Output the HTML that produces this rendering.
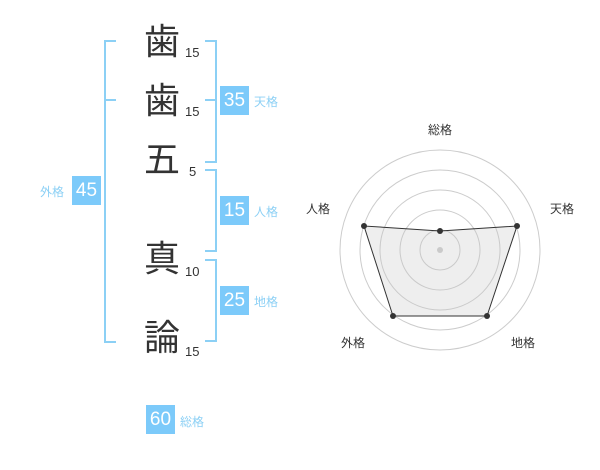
<!DOCTYPE html>
<html><head><meta charset="utf-8"><style>
body{margin:0;width:600px;height:470px;background:#fff;position:relative;font-family:"Liberation Sans","Noto Sans CJK JP",sans-serif;overflow:hidden}
.k{position:absolute;left:142px;font-size:36px;color:#333;line-height:40px;width:40px;text-align:center}
.n{position:absolute;font-size:13px;color:#333;line-height:14px}
.b{position:absolute;width:29px;height:29px;background:#7ccafa;color:#fff;font-size:19px;line-height:29px;text-align:center}
.l{position:absolute;font-size:12px;color:#8cd0f5;line-height:14px}
.br{position:absolute;border:2px solid #8cd0f5}
</style></head><body>
<div class="k" style="top:22px">歯</div>
<div class="k" style="top:81px">歯</div>
<div class="k" style="top:140px">五</div>
<div class="k" style="top:239px">真</div>
<div class="k" style="top:318px">論</div>
<div class="n" style="left:185px;top:46px">15</div>
<div class="n" style="left:185px;top:105px">15</div>
<div class="n" style="left:189px;top:165px">5</div>
<div class="n" style="left:185px;top:265px">10</div>
<div class="n" style="left:185px;top:345px">15</div>
<div class="br" style="left:104px;top:40px;width:10px;height:299px;border-right:none"></div>
<div style="position:absolute;left:104px;top:99px;width:12px;height:2px;background:#8cd0f5"></div>
<div class="br" style="left:205px;top:40px;width:10px;height:119px;border-left:none"></div>
<div style="position:absolute;left:205px;top:99px;width:12px;height:2px;background:#8cd0f5"></div>
<div class="br" style="left:205px;top:169px;width:10px;height:79px;border-left:none"></div>
<div class="br" style="left:205px;top:259px;width:10px;height:79px;border-left:none"></div>
<div class="b" style="left:72px;top:176px">45</div><div class="l" style="left:40px;top:185px">外格</div>
<div class="b" style="left:220px;top:86px">35</div><div class="l" style="left:254px;top:95px">天格</div>
<div class="b" style="left:220px;top:196px">15</div><div class="l" style="left:254px;top:205px">人格</div>
<div class="b" style="left:220px;top:286px">25</div><div class="l" style="left:254px;top:295px">地格</div>
<div class="b" style="left:146px;top:405px">60</div><div class="l" style="left:180px;top:415px">総格</div>
<svg style="position:absolute;left:0;top:0" width="600" height="470">
<g fill="none" stroke="#ccc" stroke-width="1">
<circle cx="440" cy="250" r="20"/><circle cx="440" cy="250" r="40"/><circle cx="440" cy="250" r="60"/><circle cx="440" cy="250" r="80"/><circle cx="440" cy="250" r="100"/></g>
<circle cx="440" cy="250" r="3" fill="#ccc"/>
<polygon points="440,231 517,226 487,316 393,316 364,226" fill="rgba(200,200,200,0.3)" stroke="#333" stroke-width="1"/>
<g fill="#333"><circle cx="440" cy="231" r="3"/><circle cx="517" cy="226" r="3"/><circle cx="487" cy="316" r="3"/><circle cx="393" cy="316" r="3"/><circle cx="364" cy="226" r="3"/></g>
<g font-size="12" fill="#333" font-family="Liberation Sans,Noto Sans CJK JP,sans-serif" text-anchor="middle">
<text x="440" y="134">総格</text><text x="562" y="213">天格</text><text x="523" y="347">地格</text><text x="353" y="347">外格</text><text x="318" y="213">人格</text></g>
</svg>
</body></html>
